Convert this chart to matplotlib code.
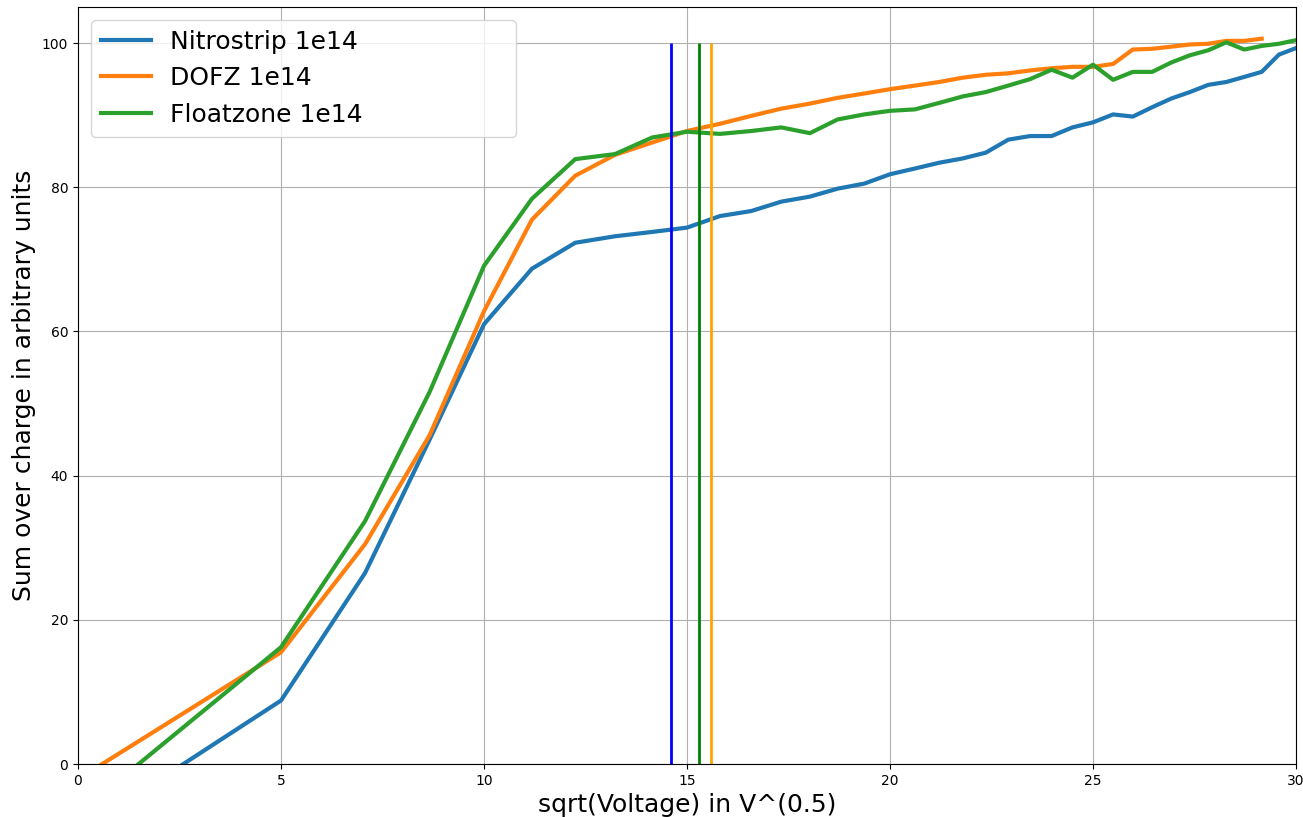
import numpy as np
import matplotlib
matplotlib.use("Agg")
import matplotlib.pyplot as plt

voltage = [0, 25, 50, 75, 100, 125, 150, 175, 200, 225, 250, 275, 300, 325,
           350, 375, 400, 425, 450, 475, 500, 525, 550, 575, 600, 625, 650,
           675, 700, 725, 750, 775, 800, 825, 850, 875, 900]

nitrostrip = [-9.5, 8.8, 26.5, 45.0, 61.0, 68.7, 72.3, 73.2, 73.8, 74.4, 76.0,
              76.7, 78.0, 78.7, 79.8, 80.5, 81.8, 82.6, 83.4, 84.0, 84.8, 86.6,
              87.1, 87.1, 88.3, 89.0, 90.1, 89.8, 91.1, 92.3, 93.2, 94.2, 94.6,
              95.3, 96.0, 98.4, 99.3]
dofz = [-2.1, 15.5, 30.5, 45.6, 62.8, 75.5, 81.6, 84.5, 86.2, 87.8, 88.8,
        89.9, 90.9, 91.6, 92.4, 93.0, 93.6, 94.1, 94.6, 95.2, 95.6, 95.8,
        96.2, 96.5, 96.7, 96.7, 97.1, 99.1, 99.2, 99.5, 99.8, 99.9, 100.3,
        100.3, 100.6]
floatzone = [-6.9, 16.2, 33.7, 51.6, 69.1, 78.4, 83.9, 84.6, 86.9, 87.7, 87.4,
             87.8, 88.3, 87.5, 89.4, 90.1, 90.6, 90.8, 91.7, 92.6, 93.2, 94.1,
             95.0, 96.3, 95.2, 97.0, 94.9, 96.0, 96.0, 97.3, 98.3, 99.0, 100.1,
             99.1, 99.6, 99.9, 100.4]

labels = ["Nitrostrip 1e14", "DOFZ 1e14", "Floatzone 1e14"]
depletion_x = [14.6, 15.3, 15.6]
depletion_colors = ["blue", "green", "orange"]

fig = plt.figure(figsize=(13.03, 8.17), dpi=100)
ax = fig.add_axes([78/1303, 1-764/817, (1296-78)/1303, (764-7)/817])

x = np.sqrt(np.array(voltage, dtype=float))
ax.plot(x[:len(nitrostrip)], nitrostrip, color="#1f77b4", lw=3, label=labels[0])
ax.plot(x[:len(dofz)], dofz, color="#ff7f0e", lw=3, label=labels[1])
ax.plot(x[:len(floatzone)], floatzone, color="#2ca02c", lw=3, label=labels[2])

for xv, c in zip(depletion_x, depletion_colors):
    ax.vlines(xv, 0, 100, colors=c, lw=2)

ax.set_xlim(0, 30)
ax.set_ylim(0, 105)
ax.grid(True)
ax.set_xlabel("sqrt(Voltage) in V^(0.5)", fontsize=18)
ax.set_ylabel("Sum over charge in arbitrary units", fontsize=18)
ax.legend(loc="upper left", fontsize=18, bbox_to_anchor=(0, 0, 0.370, 1),
          mode="expand")

fig.savefig("out.png", dpi=100)
